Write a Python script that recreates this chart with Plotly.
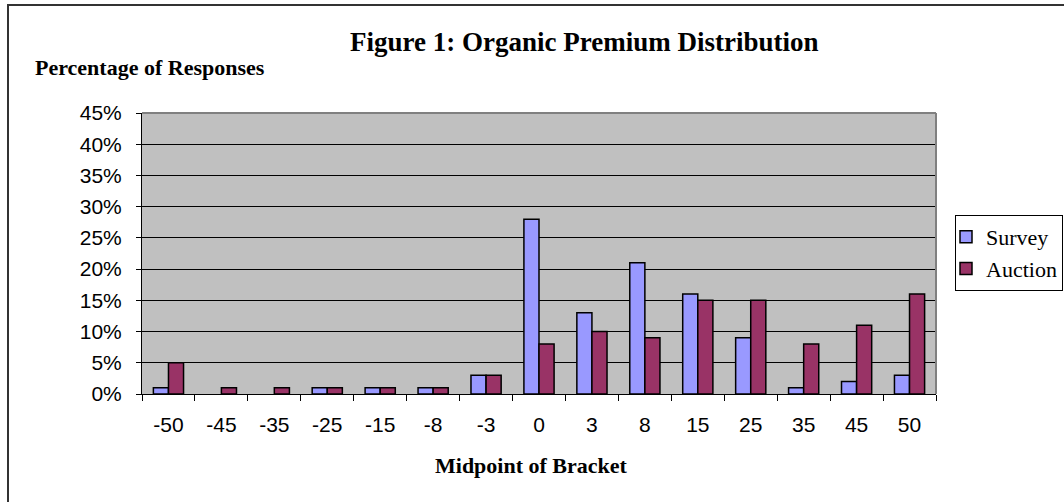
import plotly.graph_objects as go

categories = ["-50", "-45", "-35", "-25", "-15", "-8", "-3", "0", "3", "8", "15", "25", "35", "45", "50"]
survey = [1, 0, 0, 1, 1, 1, 3, 28, 13, 21, 16, 9, 1, 2, 3]
auction = [5, 1, 1, 1, 1, 1, 3, 8, 10, 9, 15, 15, 8, 11, 16]
y_ticks = [0, 5, 10, 15, 20, 25, 30, 35, 40, 45]

W, H = 1064, 502
L, R, T, B = 142, 936, 113, 394

def px(x):
    return (x - L) / (R - L)

def py(y):
    return (B - y) / (B - T)

def outline(values):
    return [1.5 if v > 0 else 0 for v in values]

fig = go.Figure()
fig.add_trace(go.Bar(x=categories, y=survey, name="Survey", legendgroup="s",
                     marker=dict(color="#9999FF", line=dict(color="black", width=outline(survey)))))
fig.add_trace(go.Bar(x=categories, y=auction, name="Auction", legendgroup="a",
                     marker=dict(color="#993366", line=dict(color="black", width=outline(auction)))))

serif = "Liberation Serif, Times New Roman, serif"
sans = "Liberation Sans, Arial, sans-serif"

fig.update_layout(
    width=W, height=H,
    margin=dict(l=L, r=W - R, t=T, b=H - B, autoexpand=False),
    paper_bgcolor="white",
    plot_bgcolor="#C0C0C0",
    barmode="group",
    bargap=0.43,
    bargroupgap=0,
    showlegend=True,
    legend=dict(x=px(955), y=py(215), xanchor="left", yanchor="top",
                bordercolor="black", borderwidth=1, bgcolor="white",
                font=dict(family=serif, size=22, color="black"),
                tracegroupgap=14, traceorder="normal", indentation=-10,
                itemwidth=30),
    xaxis=dict(type="category", tickson="boundaries", ticks="outside", ticklen=6,
               tickcolor="black", showline=True, linecolor="black", linewidth=1,
               showgrid=False, tickfont=dict(family=sans, size=21, color="black"),
               ticklabelstandoff=12, fixedrange=True),
    yaxis=dict(range=[0, 45], tickvals=y_ticks, ticktext=[f"{v}%" for v in y_ticks],
               ticks="outside", ticklen=5, tickcolor="black", showline=True,
               linecolor="black", linewidth=1, showgrid=True, gridcolor="black",
               gridwidth=1, zeroline=False,
               tickfont=dict(family=sans, size=21, color="black"),
               ticklabelstandoff=10, fixedrange=True),
    annotations=[
        dict(text="<b>Figure 1: Organic Premium Distribution</b>", xref="paper", yref="paper",
             x=px(584), y=py(42), xanchor="center", yanchor="middle", showarrow=False,
             font=dict(family=serif, size=27, color="black")),
        dict(text="<b>Percentage of Responses</b>", xref="paper", yref="paper",
             x=px(33), y=py(68), xanchor="left", yanchor="middle", showarrow=False,
             font=dict(family=serif, size=22, color="black")),
        dict(text="<b>Midpoint of Bracket</b>", xref="paper", yref="paper",
             x=px(531), y=py(465), xanchor="center", yanchor="middle", showarrow=False,
             font=dict(family=serif, size=22, color="black")),
    ],
    shapes=[
        dict(type="line", xref="paper", yref="paper", x0=0, x1=1, y0=1, y1=1,
             line=dict(color="#808080", width=2), layer="above"),
        dict(type="line", xref="paper", yref="paper", x0=1, x1=1, y0=0, y1=1,
             line=dict(color="#808080", width=2), layer="above"),
        dict(type="rect", xref="paper", yref="paper", x0=px(8), x1=px(1070),
             y0=py(510), y1=py(5), line=dict(color="#333333", width=2),
             fillcolor="rgba(0,0,0,0)", layer="above"),
    ],
)

fig.write_html("out.html", config={"displayModeBar": False},
               post_script="document.body.style.margin='0';document.body.style.overflow='hidden';")
